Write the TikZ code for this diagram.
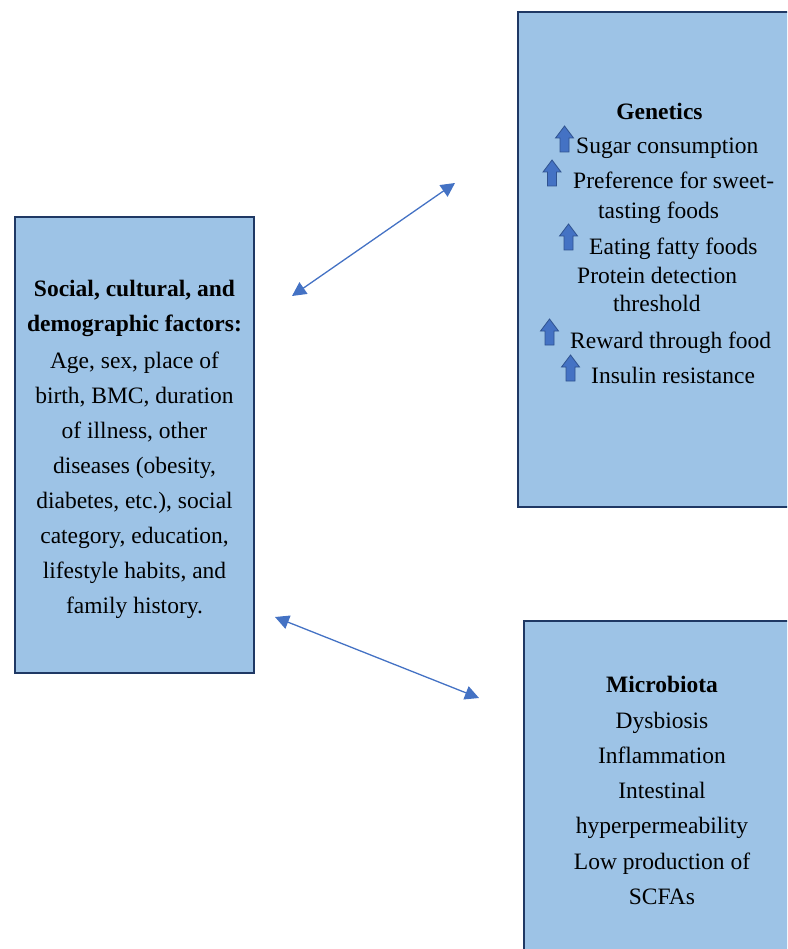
\documentclass[tikz,border=0pt]{standalone}
\usepackage{fontspec}
\setmainfont{Liberation Serif}
\usetikzlibrary{arrows.meta}
\definecolor{boxfill}{HTML}{9DC3E6}
\definecolor{boxline}{HTML}{1F3864}
\definecolor{arrblue}{HTML}{4472C4}
\definecolor{arrdark}{HTML}{2F528F}
\begin{document}
\begin{tikzpicture}[x=1pt,y=-1pt,
  txt/.style={font=\fontsize{23.5}{28}\selectfont, inner sep=0pt, anchor=base, yshift=-1.5pt},
  txtl/.style={txt, anchor=base west},
  bold/.style={txt, font=\fontsize{23.5}{28}\selectfont\bfseries},
  panel/.style={fill=boxfill, draw=boxline, line width=2pt, anchor=north west, inner sep=0pt, outer sep=0pt},
  link/.style={draw=arrblue, line width=1.3pt, {Triangle[length=14pt,width=14pt]}-{Triangle[length=14pt,width=14pt]}},
  upar/.pic={\filldraw[fill=arrblue, draw=arrdark, line width=0.8pt] (-4.5,0) -- (-4.5,-14) -- (-9,-14) -- (0,-26) -- (9,-14) -- (4.5,-14) -- (4.5,0) -- cycle;}
]
\useasboundingbox (0,0) rectangle (787,949);
\begin{scope}
\clip (0,0) rectangle (787,949);
% boxes
\node[panel, minimum width=239pt, minimum height=456pt] (soc) at (15,217) {};
\node[panel, minimum width=300pt, minimum height=495pt] (gen) at (518,12) {};
\node[panel, minimum width=300pt, minimum height=380pt] (mic) at (524,621) {};

% left box text
\node[bold] (s1) at (134.5,295) {Social, cultural, and};
\node[bold] (s2) at (134.5,330) {demographic factors:};
\node[txt] (s3) at (134.5,366.5) {Age, sex, place of};
\node[txt] (s4) at (134.5,401.7) {birth, BMC, duration};
\node[txt] (s5) at (134.5,437) {of illness, other};
\node[txt] (s6) at (134.5,472) {diseases (obesity,};
\node[txt] (s7) at (134.5,507) {diabetes, etc.), social};
\node[txt] (s8) at (134.5,542) {category, education,};
\node[txt] (s9) at (134.5,577) {lifestyle habits, and};
\node[txt] (s10) at (134.5,612) {family history.};

% genetics text
\node[bold] (g0) at (659.5,118) {Genetics};
\pic at (564.5,152) {upar};
\node[txtl] (g1) at (576,152) {Sugar consumption};
\pic at (552,186) {upar};
\node[txtl] (g2) at (573,186.7) {Preference for sweet-};
\node[txtl] (g3) at (598,216.7) {tasting foods};
\pic at (568.5,250) {upar};
\node[txtl] (g4) at (589,252.7) {Eating fatty foods};
\node[txtl] (g5) at (577,281.7) {Protein detection};
\node[txtl] (g6) at (613,310) {threshold};
\pic at (549.5,345) {upar};
\node[txtl] (g7) at (570,346.7) {Reward through food};
\pic at (570.5,381) {upar};
\node[txtl] (g8) at (591,381.7) {Insulin resistance};

% microbiota text
\node[bold] (m0) at (662,691) {Microbiota};
\node[txt] (m1) at (662,727) {Dysbiosis};
\node[txt] (m2) at (662,762) {Inflammation};
\node[txt] (m3) at (662,797) {Intestinal};
\node[txt] (m4) at (662,832) {hyperpermeability};
\node[txt] (m5) at (662,868) {Low production of};
\node[txt] (m6) at (662,903) {SCFAs};
\end{scope}

% connectors
\coordinate (a1s) at (292,296);
\coordinate (a1e) at (455,183);
\coordinate (a2s) at (275,617);
\coordinate (a2e) at (479,698);
\draw[link] (a1s) -- (a1e);
\draw[link] (a2s) -- (a2e);
\end{tikzpicture}
\end{document}
